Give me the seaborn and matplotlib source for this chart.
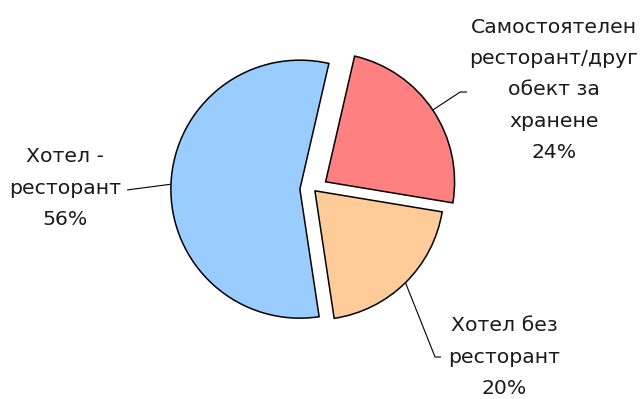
import numpy as np
import matplotlib
matplotlib.use("Agg")
import matplotlib.pyplot as plt
import seaborn as sns

# Share of establishments by type
labels = ["Самостоятелен\nресторант/друг\nобект за\nхранене", "Хотел без\nресторант", "Хотел -\nресторант"]
shares = [24, 20, 56]
colors = ["#FF8080", "#FFCC99", "#99CCFF"]
explode = [0.11, 0.012, 0.108]

# label centres and leader elbows, in pie-radius units from the pie centre
label_pos = [(1.86, 0.775), (1.475, -1.297), (-1.93, 0.013)]
elbows = [[(1.134, 0.757), (1.188, 0.757)],
          [(0.940, -1.297), (0.986, -1.297)],
          [(-1.447, -0.002)]]

sns.set_theme(style="white")
plt.rcParams["font.family"] = ["DejaVu Sans"]

W, H, DPI = 640, 399, 100
fig = plt.figure(figsize=(W / DPI, H / DPI), dpi=DPI)
ax = fig.add_axes([0, 0, 1, 1])

start = 77
wedges, _ = ax.pie(shares, colors=colors, explode=explode, startangle=start,
                   counterclock=False, radius=1.0,
                   wedgeprops=dict(edgecolor="black", linewidth=1.1))

# pixel geometry: pie centre and radius
cx, cy, R = 313.8, 189.7, 129.0
ax.set_xlim(-cx / R, (W - cx) / R)
ax.set_ylim(-(H - cy) / R, cy / R)
ax.set_aspect("equal", adjustable="box")
ax.axis("off")

text_color = "#1a1a1a"
angle = start
for i, (lab, val) in enumerate(zip(labels, shares)):
    span = 360 * val / sum(shares)
    mid = np.deg2rad(angle - span / 2)
    angle -= span
    ox, oy = explode[i] * np.cos(mid), explode[i] * np.sin(mid)
    p0 = (ox + np.cos(mid), oy + np.sin(mid))
    pts = [p0] + elbows[i]
    ax.plot([p[0] for p in pts], [p[1] for p in pts], color="black", lw=0.8,
            solid_capstyle="butt")
    lx, ly = label_pos[i]
    ax.text(lx, ly, f"{lab}\n{val}%", ha="center", va="center", fontsize=14.7,
            color=text_color, linespacing=1.82)

fig.savefig("out.png", dpi=DPI)
